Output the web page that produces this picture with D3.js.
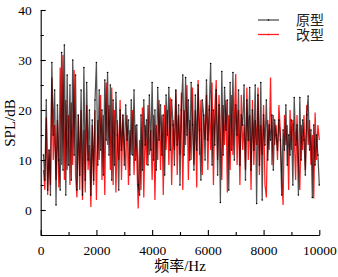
<!DOCTYPE html>
<html><head><meta charset="utf-8">
<script src="https://cdn.jsdelivr.net/npm/d3@7"></script>
<style>body{margin:0;background:#fff}svg{display:block}</style>
</head><body>
<svg id="c" width="338" height="277"></svg>
<script>
const freqStart = 100, freqStep = 50, freqEnd = 10000;
const seriesNames = ["原型", "改型"];
const original = [
 11,6,22,4,12,3,29.5,15,24,1,
 21,10,4,31.5,8,33,3,27,9,25,
 6,30,11,27,4,19,7,24,3,28.5,
 6,25.5,10,20,3,18,6,22,29.5,9,
 24,12,20,7,26,14,27.5,11,25,6,
 22,9,23.5,15,4,20,12,19,9,21,
 14,18,7,22,11,24,10,17,5,3,
 19,8,22,13,18,9,23,12,25.5,10,
 20,8,24.5,14,21,11,19,7,23,15,
 24.5,12,22,17,9,24,13,21,5,20,
 27,11,26.5,15,22,10,25.5,17,8,23,
 12,25,16,6,22,19,10,26,14,20,
 29.3,9,20,13,24,7,21,1.5,27.7,11,
 24.5,16,22,4,25.5,12,27.5,10,21,15,
 24,9,19,17,25,6,22,14,24.5,8,
 20,12,25,1.3,23,9,25.5,2,19,13,
 22,10,17,14,19,8,18,15,12,18,
 14,3,16,12,21,9,15,11,18,5,
 22.5,13,17,3,22.5,10,18,14,7,19,
 22.8,12,16,2.5,17,9,15,11,5
];
const modified = [
 8,4,18.5,3,12,5,26.5,10,17,6,
 18,4.5,28.5,9,31,6,22,8,19,5,
 21.5,9,28,7,2.5,19,4,20,2,16,
 3.5,21,8,13,0.6,17,5,20,2,18,
 10,23,6,19,3,25.5,13,21,8,24.5,
 5,20,3.5,18,10,22,6,19,13,8,
 19,5,16,11,20,7,17,10,0.3,14,
 4,20.5,2.5,17,9,21,11,16,6,19,
 2,17,10,22,8,19,3,21,12,20,
 9,22.5,5,18,12,24,7,19,11,23.5,
 4,20,13,25,6,18,10,24.5,9,20,
 4.5,26,11,22,7,19,14,23,8,21,
 12,25.5,5,20,26,10,23,15,6,21,
 13,22,3.5,19,8,23,11,18,27.2,9,
 20,5,23,12,17,8,24.5,10,19,4,
 22,9,18,13,24.5,7,17,11,21,5,
 2.5,18,12,26.5,9,19,13,17,10,21,
 16,7,1,19,13,17,4,20,12,18,
 15,6,19,10,4,17,12,19,8,21,
 13,18,9,15,2.3,19.5,10,17,14
];
const xTicks = [0, 2000, 4000, 6000, 8000, 10000];
const yTicks = [0, 10, 20, 30, 40];
const xLabel = "频率/Hz", yLabel = "SPL/dB";

const freqs = d3.range(freqStart, freqEnd + 1, freqStep);
const svg = d3.select("#c");
const L = 40.7, R = 319.3, T = 10, B = 235;
const x = d3.scaleLinear().domain([0, 10000]).range([L, R]);
const y = d3.scaleLinear().domain([-5, 40]).range([B, T]);
const serif = "'Liberation Serif','Times New Roman',serif";
const cjk = "'Liberation Serif','Noto Sans CJK SC',serif";

const plot = svg.append("g");
const line = d3.line().x((d, i) => x(freqs[i])).y(d => y(d));
plot.append("path").datum(modified).attr("d", line)
  .attr("fill", "none").attr("stroke", "#ff0000").attr("stroke-width", 1.25).attr("stroke-opacity", 0.88);
plot.append("path").datum(original).attr("d", line)
  .attr("fill", "none").attr("stroke", "#000").attr("stroke-width", 1.25).attr("stroke-opacity", 0.68);
plot.selectAll("circle.o").data(original).enter().append("circle")
  .attr("cx", (d, i) => x(freqs[i])).attr("cy", d => y(d)).attr("r", 0.8).attr("fill", "#000");

// axes
const xAxis = svg.append("g").attr("transform", `translate(0,${B})`)
  .call(d3.axisBottom(x).tickValues(xTicks).tickSizeInner(-5).tickSizeOuter(0).tickPadding(10).tickFormat(d3.format("d")));
const xMinor = svg.append("g").attr("transform", `translate(0,${B})`)
  .call(d3.axisBottom(x).tickValues([1000,3000,5000,7000,9000]).tickSize(-3).tickFormat(""));
const yAxis = svg.append("g").attr("transform", `translate(${L},0)`)
  .call(d3.axisLeft(y).tickValues(yTicks).tickSizeInner(-5).tickSizeOuter(0).tickPadding(9));
const yMinor = svg.append("g").attr("transform", `translate(${L},0)`)
  .call(d3.axisLeft(y).tickValues([-5,5,15,25,35]).tickSize(-3).tickFormat(""));
[xMinor, yMinor].forEach(g => g.select(".domain").remove());
[xAxis, yAxis, xMinor, yMinor].forEach(g => {
  g.selectAll("path,line").attr("stroke", "#000").attr("stroke-width", 1.1);
  g.selectAll("text").attr("font-family", serif).attr("font-size", 13.5).attr("fill", "#000");
});
xAxis.selectAll("text").attr("dy", "0.71em");

svg.append("text").attr("x", 180).attr("y", 271).attr("text-anchor", "middle")
  .attr("font-family", cjk).attr("font-size", 15).text(xLabel);
svg.append("text").attr("transform", "translate(15,123) rotate(-90)").attr("text-anchor", "middle")
  .attr("font-family", serif).attr("font-size", 15).text(yLabel);

// legend
const lg = svg.append("g");
const colors = ["#000", "#ff0000"], ops = [0.68, 0.88];
seriesNames.forEach((n, i) => {
  const yy = 20 + i * 14.5;
  lg.append("line").attr("x1", 258).attr("x2", 279).attr("y1", yy).attr("y2", yy)
    .attr("stroke", colors[i]).attr("stroke-opacity", ops[i]).attr("stroke-width", 1.3);
  lg.append("circle").attr("cx", 268.5).attr("cy", yy).attr("r", 0.8).attr("fill", colors[i]);
  lg.append("text").attr("x", 296).attr("y", yy + 5).attr("font-family", cjk)
    .attr("font-size", 14).attr("fill", "#222").text(n);
});
</script>
</body></html>
